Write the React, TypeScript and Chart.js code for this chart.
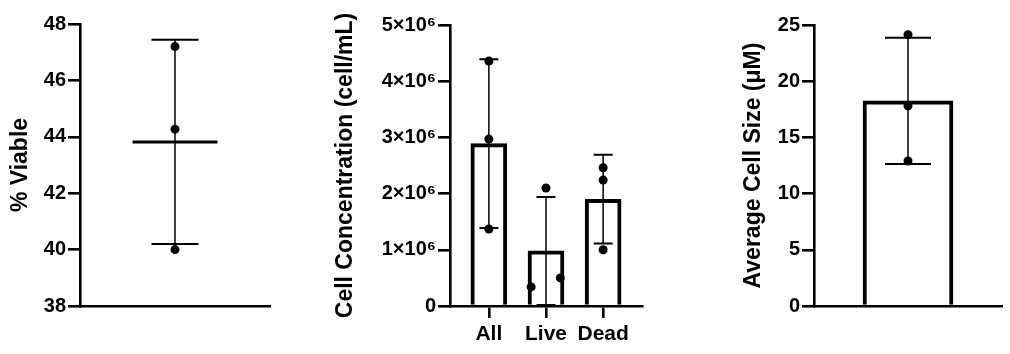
import React, { useEffect, useRef } from 'react';
import Chart from 'chart.js/auto';

// ---------- data ----------
const viableValues = [47.2, 44.27, 40.0];
const viableMean = [43.82];
const viableSD = [3.62];
const viableTicks = [38, 40, 42, 44, 46, 48];

const concCategories = ['All', 'Live', 'Dead'];
const concAll = [4.36e6, 2.97e6, 1.37e6];
const concLive = [0.34e6, 2.1e6, 0.5e6];
const concDead = [2.46e6, 2.24e6, 1.0e6];
const concLiveJitter = [-0.26, 0, 0.25];
const concMeans = [2.89e6, 0.98e6, 1.9e6];
const concSD = [1.5e6, 0.96e6, 0.79e6];
const concTicks = [0, 1e6, 2e6, 3e6, 4e6, 5e6];
const concTickLabels = ['0', '1×10⁶', '2×10⁶', '3×10⁶', '4×10⁶', '5×10⁶'];

const sizeValues = [24.14, 17.8, 12.9];
const sizeMean = [18.25];
const sizeSD = [5.62];
const sizeTicks = [0, 5, 10, 15, 20, 25];

// ---------- styles ----------
const FAMILY = "'Liberation Sans', Arial, Helvetica, sans-serif";
const tickFont = { family: FAMILY, size: 20, weight: 'bold' as const, lineHeight: 1 };
const catFont = { family: FAMILY, size: 21, weight: 'bold' as const, lineHeight: 1 };
const titleFont = { family: FAMILY, size: 23, weight: 'bold' as const, lineHeight: 1 };
const AXIS_W = 2.6;

type EBCfg = {
  means: number[];
  sds: number[];
  cap: number;
  meanHalf?: number;
};

function makeErrorBars(cfg: EBCfg) {
  return {
    id: 'errorBars',
    afterDatasetsDraw(chart: any) {
      const { ctx, scales } = chart;
      const x = scales.x;
      const y = scales.y;
      ctx.save();
      ctx.strokeStyle = '#000';
      cfg.means.forEach((m, i) => {
        const cx = x.getPixelForValue(i);
        const top = y.getPixelForValue(m + cfg.sds[i]);
        const bot = y.getPixelForValue(m - cfg.sds[i]);
        ctx.lineWidth = 1.5;
        ctx.beginPath();
        ctx.moveTo(cx, top);
        ctx.lineTo(cx, bot);
        ctx.stroke();
        ctx.lineWidth = 2;
        ctx.beginPath();
        ctx.moveTo(cx - cfg.cap, top);
        ctx.lineTo(cx + cfg.cap, top);
        ctx.moveTo(cx - cfg.cap, bot);
        ctx.lineTo(cx + cfg.cap, bot);
        ctx.stroke();
        if (cfg.meanHalf) {
          const my = y.getPixelForValue(m);
          ctx.lineWidth = 3;
          ctx.beginPath();
          ctx.moveTo(cx - cfg.meanHalf, my);
          ctx.lineTo(cx + cfg.meanHalf, my);
          ctx.stroke();
        }
      });
      ctx.restore();
    },
  };
}

function yScale(ticks: number[], labels: string[] | null, title: string, padLeft: number, axisX: number) {
  return {
    type: 'linear',
    position: 'left',
    min: ticks[0],
    max: ticks[ticks.length - 1],
    afterBuildTicks: (s: any) => {
      s.ticks = ticks.map((v) => ({ value: v }));
    },
    ticks: {
      color: '#000',
      font: tickFont,
      padding: 2,
      callback: (v: any, i: number) => (labels ? labels[i] : String(v)),
    },
    grid: { drawOnChartArea: false, drawTicks: true, tickLength: 12, lineWidth: AXIS_W, color: '#000' },
    border: { display: true, color: '#000', width: AXIS_W },
    title: { display: true, text: title, color: '#000', font: titleFont, padding: 0 },
    afterFit: (s: any) => {
      s.width = axisX - padLeft;
    },
  };
}

function plainX(min: number, max: number) {
  return {
    type: 'linear',
    position: 'bottom',
    offset: false,
    min,
    max,
    ticks: { display: false },
    grid: { display: false, offset: false },
    border: { display: true, color: '#000', width: AXIS_W },
    afterFit: (s: any) => {
      s.height = 48;
    },
  };
}

const W = 1010;
const H = 354;

const baseOptions = (pad: any) => ({
  responsive: false,
  animation: false as const,
  devicePixelRatio: 1,
  layout: { padding: pad },
  plugins: { legend: { display: false }, tooltip: { enabled: false } },
});

const pointStyle = {
  pointRadius: 4.5,
  pointHoverRadius: 4.5,
  pointBackgroundColor: '#000',
  pointBorderWidth: 0,
  backgroundColor: '#000',
  borderColor: '#000',
};

const barStyle = {
  backgroundColor: '#fff',
  borderColor: '#000',
  borderWidth: 4,
  borderSkipped: 'bottom',
};

export default function App() {
  const r1 = useRef<HTMLCanvasElement>(null);
  const r2 = useRef<HTMLCanvasElement>(null);
  const r3 = useRef<HTMLCanvasElement>(null);

  useEffect(() => {
    // Panel 1: % Viable
    const p1Left = 9;
    const c1 = new Chart(r1.current!, {
      type: 'scatter',
      data: {
        datasets: [
          {
            data: viableValues.map((v) => ({ x: 0, y: v })),
            ...pointStyle,
          } as any,
        ],
      },
      options: {
        ...baseOptions({ left: p1Left, top: 24, right: W - 270, bottom: 0 }),
        scales: {
          x: plainX(-1, 1) as any,
          y: yScale(viableTicks, null, '% Viable', p1Left, 80) as any,
        },
      } as any,
      plugins: [makeErrorBars({ means: viableMean, sds: viableSD, cap: 23.5, meanHalf: 42.5 })],
    });

    // Panel 2: Cell concentration
    const p2Left = 334;
    const c2 = new Chart(r2.current!, {
      type: 'bar',
      data: {
        datasets: [
          {
            type: 'scatter',
            order: 0,
            data: [
              ...concAll.map((v) => ({ x: 0, y: v })),
              ...concLive.map((v, i) => ({ x: 1 + concLiveJitter[i], y: v })),
              ...concDead.map((v) => ({ x: 2, y: v })),
            ],
            ...pointStyle,
          } as any,
          {
            type: 'bar',
            order: 1,
            data: concMeans.map((v, i) => ({ x: i, y: v })),
            ...barStyle,
            barThickness: 36,
          } as any,
        ],
      },
      options: {
        ...baseOptions({ left: p2Left, top: 25, right: W - 642, bottom: 0 }),
        scales: {
          x: {
            type: 'linear',
            position: 'bottom',
            offset: false,
            min: -0.68,
            max: 2.68,
            afterBuildTicks: (s: any) => {
              s.ticks = concCategories.map((_, i) => ({ value: i }));
            },
            ticks: {
              color: '#000',
              font: catFont,
              padding: 6,
              maxRotation: 0,
              autoSkip: false,
              callback: (v: any) => concCategories[Math.round(v)],
            },
            grid: {
              offset: false,
              drawOnChartArea: false,
              drawTicks: true,
              tickLength: 12,
              lineWidth: AXIS_W,
              color: '#000',
            },
            border: { display: true, color: '#000', width: AXIS_W },
            afterFit: (s: any) => {
              s.height = 48;
            },
          } as any,
          y: yScale(concTicks, concTickLabels, 'Cell Concentration (cell/mL)', p2Left, 450) as any,
        },
      } as any,
      plugins: [makeErrorBars({ means: concMeans, sds: concSD, cap: 9.5 })],
    });

    // Panel 3: Average cell size
    const p3Left = 742;
    const c3 = new Chart(r3.current!, {
      type: 'bar',
      data: {
        datasets: [
          {
            type: 'scatter',
            order: 0,
            data: sizeValues.map((v) => ({ x: 0, y: v })),
            ...pointStyle,
          } as any,
          {
            type: 'bar',
            order: 1,
            data: sizeMean.map((v, i) => ({ x: i, y: v })),
            ...barStyle,
            barThickness: 90,
          } as any,
        ],
      },
      options: {
        ...baseOptions({ left: p3Left, top: 25, right: W - 1002, bottom: 0 }),
        scales: {
          x: plainX(-1, 1) as any,
          y: yScale(sizeTicks, null, 'Average Cell Size (μM)', p3Left, 814) as any,
        },
      } as any,
      plugins: [makeErrorBars({ means: sizeMean, sds: sizeSD, cap: 23 })],
    });

    return () => {
      c1.destroy();
      c2.destroy();
      c3.destroy();
    };
  }, []);

  const cs: React.CSSProperties = { position: 'absolute', left: 0, top: 0, width: W, height: H };
  return (
    <div style={{ position: 'absolute', left: 0, top: 0, width: W, height: H, background: '#fff' }}>
      <canvas ref={r1} width={W} height={H} style={cs} />
      <canvas ref={r2} width={W} height={H} style={cs} />
      <canvas ref={r3} width={W} height={H} style={cs} />
    </div>
  );
}
